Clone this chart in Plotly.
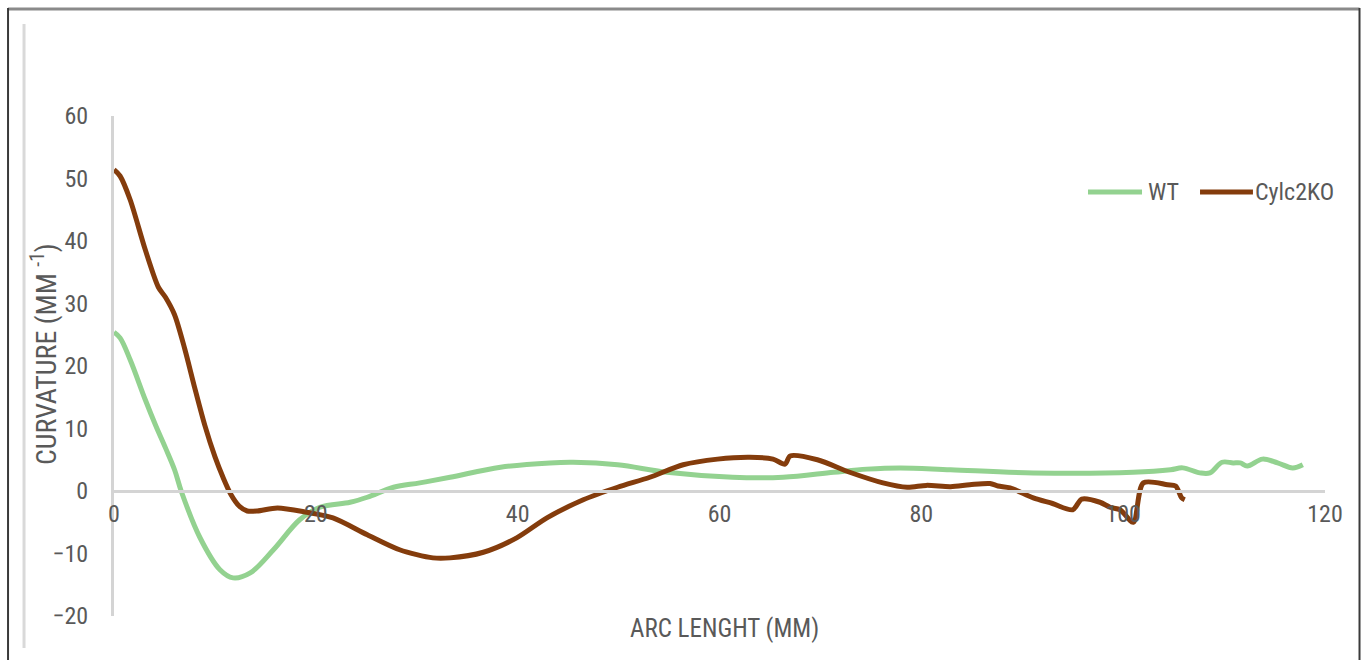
import plotly.graph_objects as go

# Arc length (mm) and curvature (mm^-1) for each genotype
series_names = ["WT", "Cylc2KO"]

wt_arc = [0, 0.6, 1.6, 3.1, 4.1, 5.1, 6.0, 6.7, 8.5, 10.5, 11.8, 13.5, 15.8, 18.4,
          20.4, 23.4, 25.1, 27.7, 30.3, 33.3, 38.3, 43.2, 45.5, 49.9, 54.8, 61.3,
          66.3, 71.3, 74.6, 77.9, 82.9, 91.1, 101.0, 104.7, 105.9, 107.6, 108.6,
          109.8, 110.9, 111.6, 112.3, 113.8, 115.3, 116.8, 117.8]
wt_curv = [25.4, 24.5, 21.0, 14.6, 10.6, 6.9, 3.4, -0.2, -7.4, -12.6, -13.9, -13.1,
           -9.4, -4.6, -2.6, -1.8, -1.0, 0.6, 1.3, 2.2, 3.8, 4.5, 4.6, 4.2, 3.0, 2.2,
           2.2, 3.0, 3.5, 3.7, 3.4, 2.9, 3.0, 3.4, 3.7, 2.9, 2.9, 4.6, 4.5, 4.5, 4.0,
           5.1, 4.5, 3.7, 4.2]

ko_arc = [0, 0.6, 1.6, 3.1, 4.4, 5.1, 6.0, 7.0, 8.0, 9.0, 10.0, 10.8, 11.6, 12.4,
          13.2, 14.2, 16.2, 19.1, 21.7, 25.1, 28.3, 31.6, 33.3, 36.6, 39.9, 42.9,
          46.5, 49.9, 53.1, 56.4, 59.8, 63.0, 65.3, 66.5, 67.0, 69.7, 72.9, 76.2,
          78.6, 80.5, 82.9, 84.8, 86.8, 87.6, 88.8, 91.1, 93.0, 95.0, 95.9, 97.7,
          98.7, 99.7, 101.0, 102.0, 104.4, 105.2, 105.8, 106.1]
ko_curv = [51.4, 50.4, 46.6, 38.6, 32.6, 31.0, 28.2, 22.8, 16.5, 10.5, 5.5, 2.2, -0.6,
           -2.4, -3.2, -3.2, -2.7, -3.4, -4.3, -7.0, -9.4, -10.7, -10.7, -9.8, -7.5,
           -4.3, -1.4, 0.6, 2.2, 4.2, 5.1, 5.4, 5.1, 4.3, 5.6, 5.0, 3.0, 1.3, 0.6, 0.9,
           0.7, 1.0, 1.2, 0.8, 0.5, -1.1, -2.0, -3.0, -1.3, -1.8, -2.6, -3.0, -5.0,
           1.3, 1.0, 0.8, -1.1, -1.4]

x_ticks = [0, 20, 40, 60, 80, 100, 120]
y_ticks = [-20, -10, 0, 10, 20, 30, 40, 50, 60]

colors = ["#93D290", "#843C0C"]
font_family = "Roboto Condensed, Roboto, sans-serif"
text_color = "#595959"
axis_color = "#D4D4D4"

fig = go.Figure()
fig.add_trace(go.Scatter(x=wt_arc, y=wt_curv, mode="lines", name=series_names[0],
                         line=dict(color=colors[0], width=5, shape="spline", smoothing=1.0)))
fig.add_trace(go.Scatter(x=ko_arc, y=ko_curv, mode="lines", name=series_names[1],
                         line=dict(color=colors[1], width=5, shape="spline", smoothing=0.8)))

y_min, y_max = y_ticks[0], y_ticks[-1]
zero_frac = (0 - y_min) / (y_max - y_min)

fig.update_layout(
    width=1361, height=660,
    margin=dict(l=114, r=36, t=116, b=44),
    paper_bgcolor="white", plot_bgcolor="white",
    showlegend=False,
    font=dict(family=font_family, size=24, color=text_color),
    xaxis=dict(range=[x_ticks[0], x_ticks[-1]], tickvals=x_ticks, showgrid=False,
               zeroline=False, showline=True, linecolor=axis_color, linewidth=3,
               anchor="free", position=zero_frac, ticks="",
               tickfont=dict(family=font_family, size=24, color=text_color)),
    yaxis=dict(range=[y_min, y_max], tickvals=y_ticks, showgrid=False, zeroline=False,
               showline=True, linecolor=axis_color, linewidth=3, ticks="",
               ticklabelstandoff=18,
               tickfont=dict(family=font_family, size=24, color=text_color)),
)

# axis titles
fig.add_annotation(x=0.5045, y=-0.024, xref="paper", yref="paper",
                   text="ARC LENGHT (MM)", showarrow=False,
                   font=dict(family=font_family, size=25, color=text_color),
                   xanchor="center", yanchor="middle")
fig.add_annotation(x=-0.0578, y=0.524, xref="paper", yref="paper",
                   text="CURVATURE (MM <sup>-1</sup>)", textangle=-90, showarrow=False,
                   font=dict(family=font_family, size=28, color=text_color),
                   xanchor="center", yanchor="middle")

# legend entries
legend_y = 0.848
legend_items = [(0.8043, 0.8489, 0.8522), (0.8968, 0.9405, 0.9405)]
for name, color, (x0, x1, xt) in zip(series_names, colors, legend_items):
    fig.add_shape(type="line", xref="paper", yref="paper", x0=x0, x1=x1,
                  y0=legend_y, y1=legend_y, line=dict(color=color, width=5))
    fig.add_annotation(x=xt, y=legend_y, xref="paper", yref="paper", text=name,
                       showarrow=False, xanchor="left", yanchor="middle",
                       font=dict(family=font_family, size=24, color=text_color))

# chart frame
fig.add_shape(type="line", xref="paper", yref="paper", x0=-0.0875, x1=1.0285,
              y0=1.214, y1=1.214, line=dict(color="#8A8A8A", width=3))
fig.add_shape(type="line", xref="paper", yref="paper", x0=-0.0875, x1=-0.0875,
              y0=-0.12, y1=1.216, line=dict(color="#3A3A3A", width=2))
fig.add_shape(type="line", xref="paper", yref="paper", x0=1.0285, x1=1.0285,
              y0=-0.12, y1=1.216, line=dict(color="#3A3A3A", width=2))
fig.add_shape(type="line", xref="paper", yref="paper", x0=-0.0743, x1=-0.0743,
              y0=-0.064, y1=1.184, line=dict(color="#D9D9D9", width=3))

fig.write_html("out.html")
